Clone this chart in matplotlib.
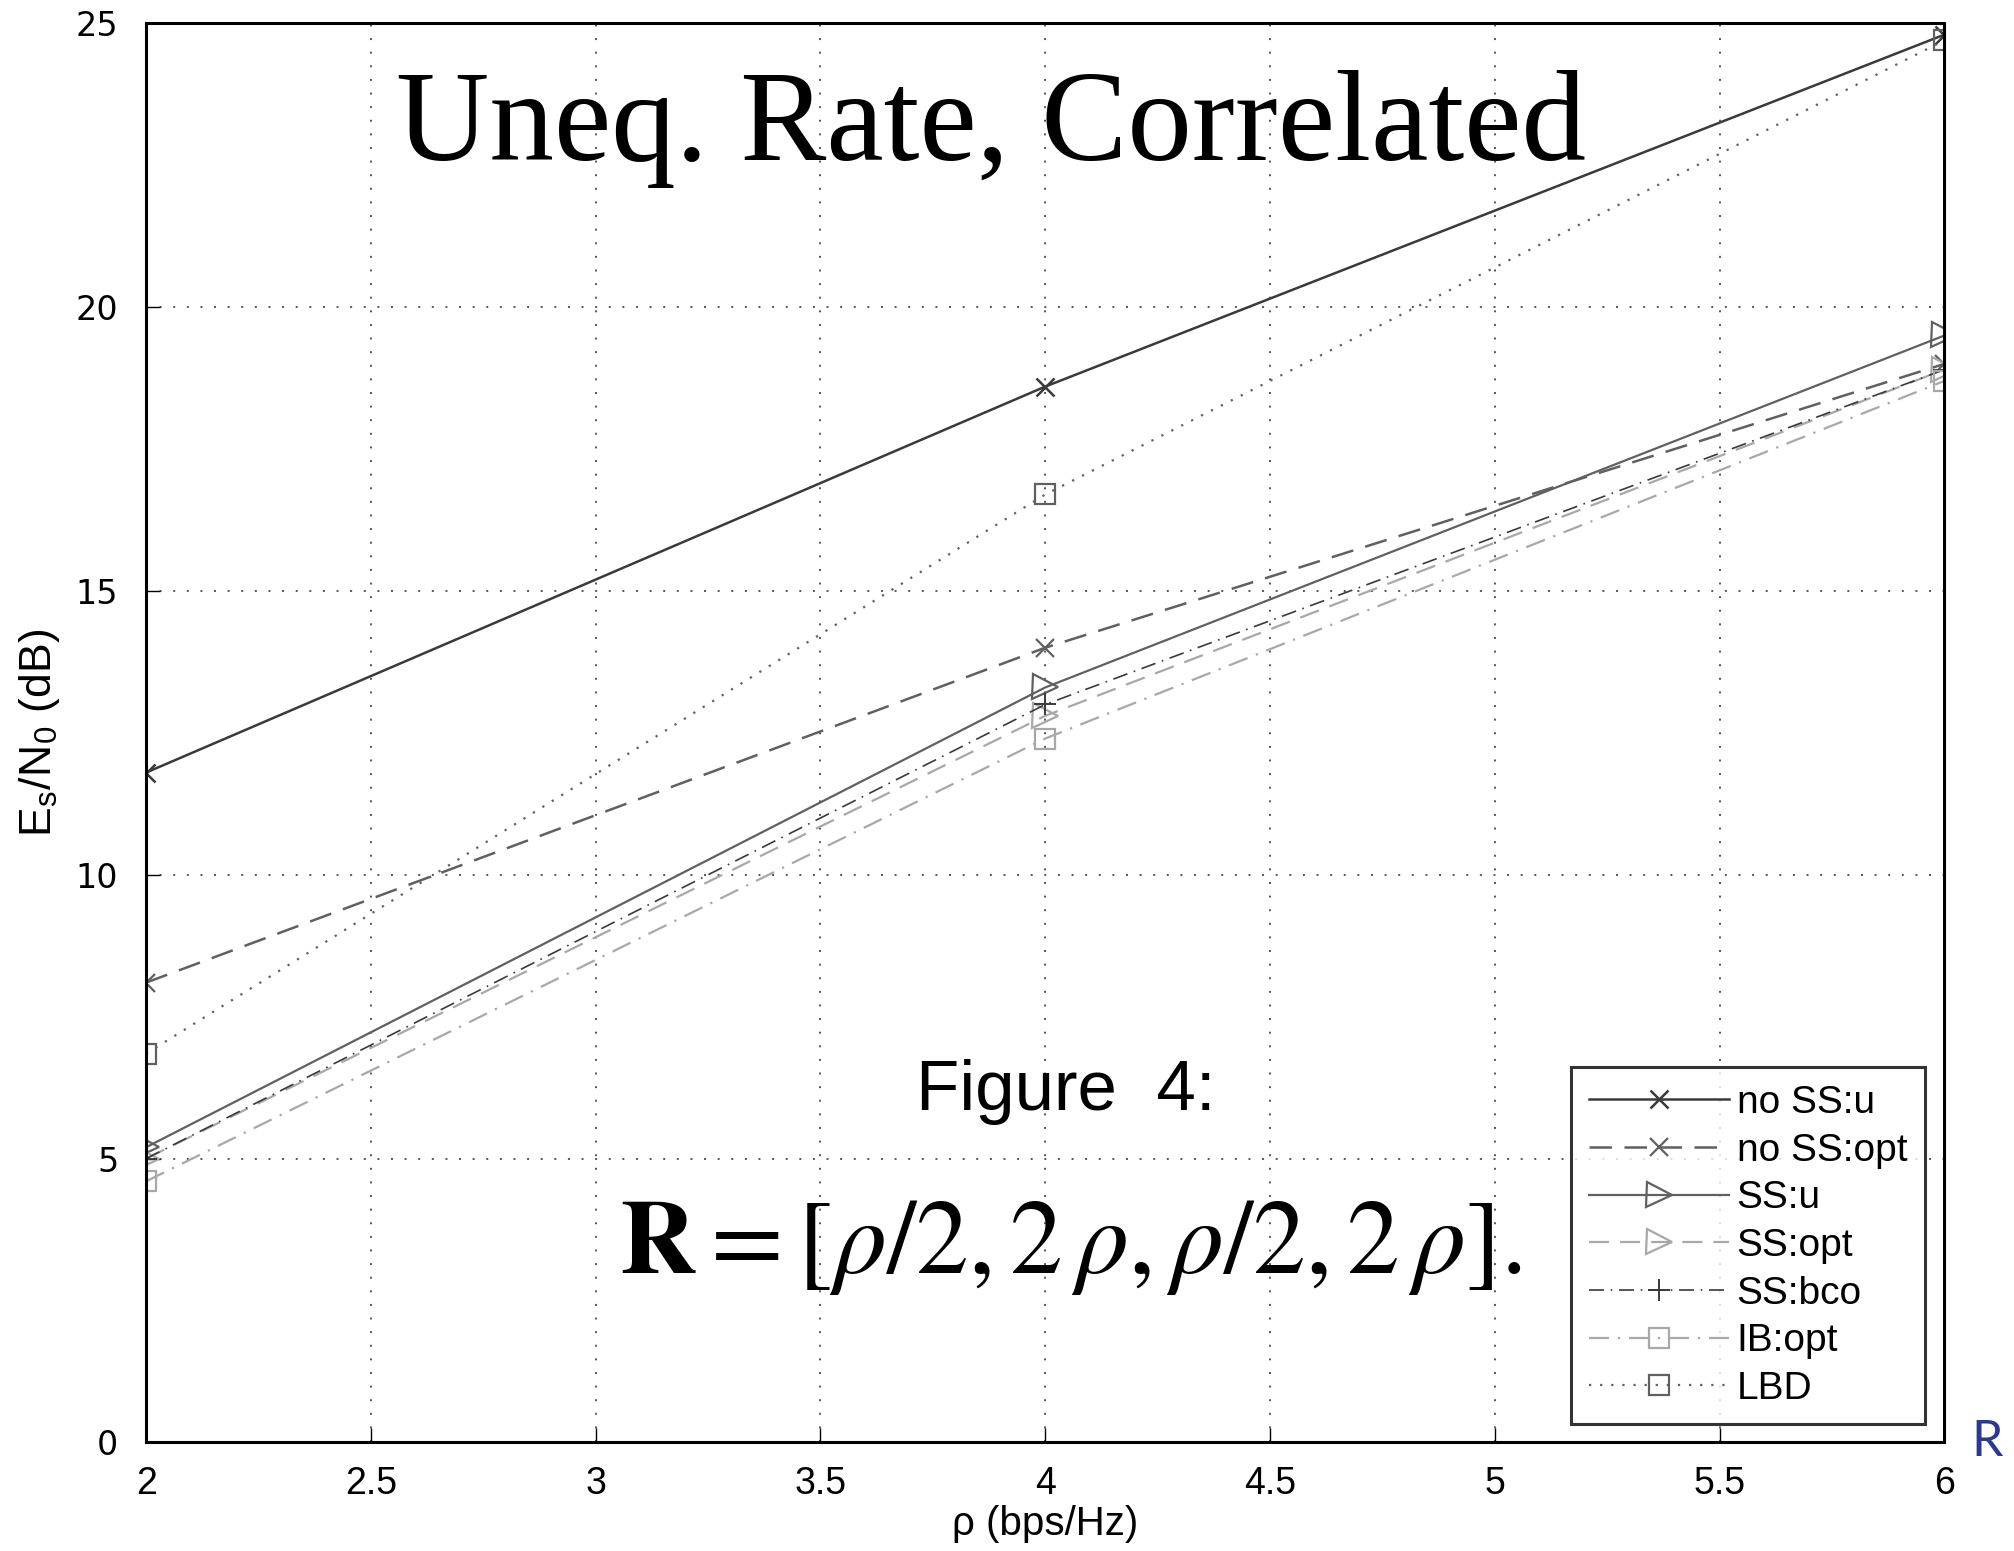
import numpy as np
import matplotlib.pyplot as plt

# data
rho = [2, 4, 6]
no_ss_u = [11.8, 18.6, 24.8]
no_ss_opt = [8.1, 14.0, 19.0]
ss_u = [5.2, 13.3, 19.5]
ss_opt = [5.0, 12.8, 18.9]
ss_bco = [5.0, 13.0, 18.9]
ib_opt = [4.6, 12.4, 18.7]
lbd = [6.85, 16.7, 24.7]

xticks = [2, 2.5, 3, 3.5, 4, 4.5, 5, 5.5, 6]
yticks = [0, 5, 10, 15, 20, 25]

plt.rcParams['font.family'] = ['Liberation Sans', 'DejaVu Sans']
plt.rcParams['mathtext.fontset'] = 'stix'

fig = plt.figure(figsize=(20.15, 15.51), dpi=100)
ax = fig.add_axes([0.0725, 0.070, 0.8925, 0.915])

dk = '#3a3a3a'
md = '#606060'
lt = '#a8a8a8'

ax.plot(rho, no_ss_u, color=dk, ls='-', lw=1.8, marker='x', ms=13, mew=1.8, label='no SS:u')
ax.plot(rho, no_ss_opt, color=md, ls=(0, (9, 5)), lw=1.8, marker='x', ms=13, mew=1.6, label='no SS:opt')
ax.plot(rho, ss_u, color=md, ls='-', lw=1.6, marker='>', ms=18, mfc='none', mew=1.6, label='SS:u')
ax.plot(rho, ss_opt, color=lt, ls=(0, (9, 5)), lw=1.6, marker='>', ms=18, mfc='none', mew=1.6, label='SS:opt')
ax.plot(rho, ss_bco, color=dk, ls=(0, (9, 4, 1, 4)), lw=1.2, marker='+', ms=16, mew=1.4, label='SS:bco')
ax.plot(rho, ib_opt, color=lt, ls=(0, (9, 4, 1, 4)), lw=1.6, marker='s', ms=14, mfc='none', mew=1.6, label='IB:opt')
ax.plot(rho, lbd, color=md, ls=(0, (1, 4)), lw=1.6, marker='s', ms=14, mfc='none', mew=1.6, label='LBD')

ax.set_xlim(2, 6)
ax.set_ylim(0, 25)
ax.set_xticks(xticks)
ax.set_xticklabels([f'{t:g}' for t in xticks])
ax.set_yticks(yticks)
ax.grid(True, color='#555555', ls=(0, (1, 6)), lw=1.4)
ax.tick_params(direction='in', length=10, width=1)
ax.tick_params(axis='x', labelsize=27, pad=17)
ax.tick_params(axis='y', labelsize=24, pad=20)
for lab in ax.get_yticklabels():
    lab.set_family('DejaVu Sans')
for s in ax.spines.values():
    s.set_linewidth(2.2)

ax.set_xlabel(r'ρ (bps/Hz)', fontsize=29, labelpad=2)
ax.set_ylabel(r'E$_\mathregular{s}$/N$_\mathregular{0}$ (dB)', fontsize=32, labelpad=10)

leg = ax.legend(loc='lower right', bbox_to_anchor=(0.989, 0.0127), fontsize=28,
                frameon=True, fancybox=False, handlelength=3.6, handletextpad=0.2,
                labelspacing=0.3, borderpad=0.45, borderaxespad=0)
leg.get_frame().set_edgecolor('black')
leg.get_frame().set_linewidth(2.2)

fig.text(0.492, 0.917, 'Uneq. Rate, Correlated', family='Liberation Serif', fontsize=93,
         ha='center', va='center')
fig.text(0.529, 0.296, 'Figure  4:', fontsize=51, ha='center', va='center')
fig.text(0.531, 0.196, r'$\mathbf{R} = [\rho/2, 2\,\rho, \rho/2, 2\,\rho].$', fontsize=76,
         ha='center', va='center')
fig.text(0.986, 0.070, 'R', family='Lato', fontsize=36, color='#2b3990',
         ha='center', va='center')

fig.savefig('out.png', dpi=100)
